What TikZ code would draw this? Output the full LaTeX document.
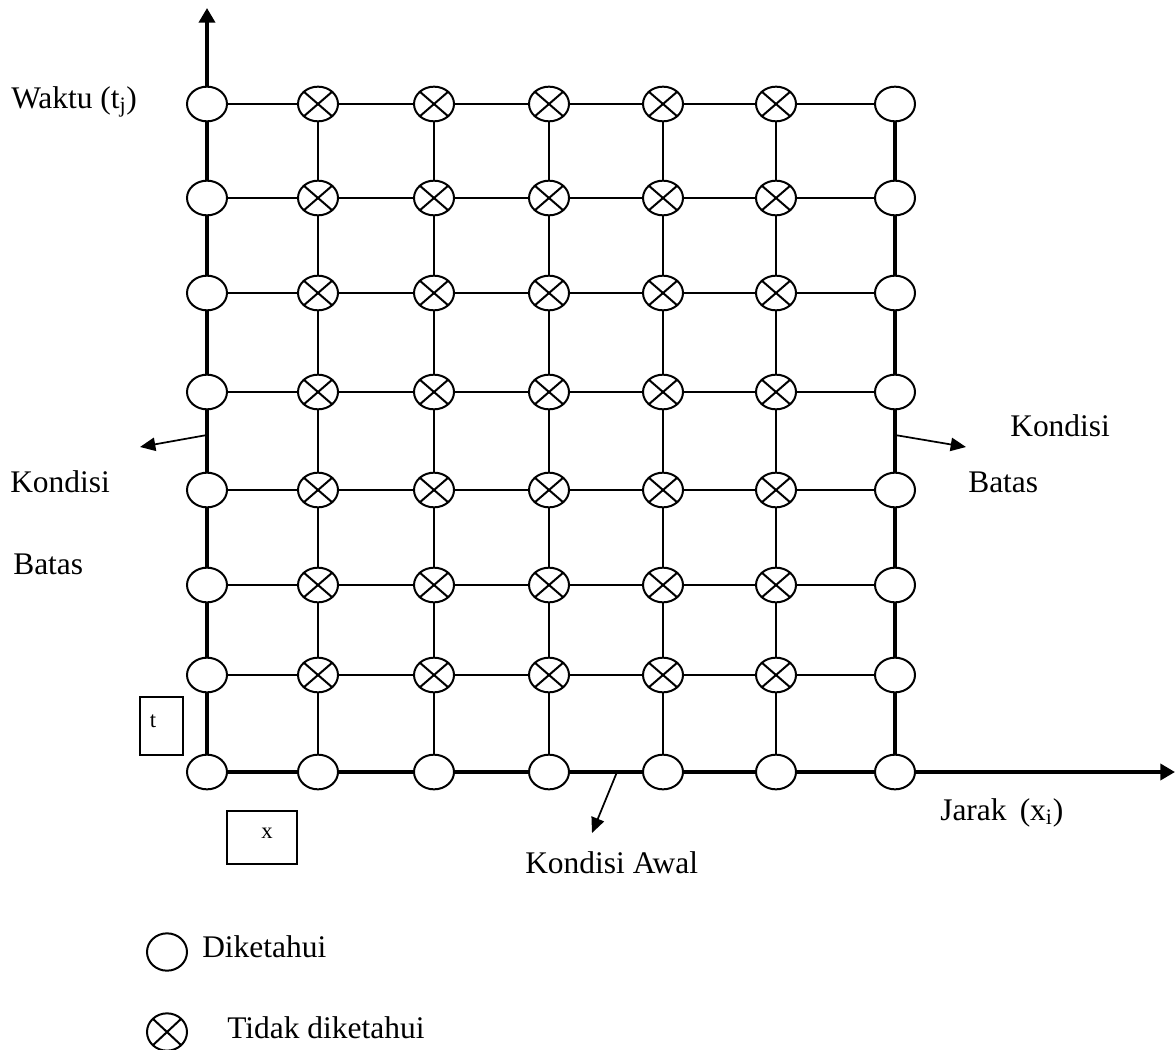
\documentclass[tikz,border=0pt]{standalone}
\usepackage{fontspec}
\setmainfont{Liberation Serif}
\usetikzlibrary{shapes.geometric,arrows.meta}
\begin{document}
\begin{tikzpicture}[x=0.75pt,y=-0.75pt,
  known/.style={draw, ellipse, line width=1.5pt, minimum width=30pt, minimum height=26pt, inner sep=0pt},
  unknown/.style={known, path picture={\draw[line width=1.5pt]
      (path picture bounding box.south west) -- (path picture bounding box.north east)
      (path picture bounding box.north west) -- (path picture bounding box.south east);}},
  gridline/.style={line width=1.1pt},
  axisline/.style={line width=3.6pt},
  axisarrow/.style={axisline, -{Triangle[length=11pt,width=12pt]}},
  condarrow/.style={line width=1.3pt, -{Triangle[length=11.5pt,width=10pt]}},
  lbl/.style={font=\fontsize{23.6}{28}\selectfont, inner sep=0pt, anchor=base west},
  smalllbl/.style={font=\fontsize{17}{20}\selectfont, inner sep=0pt},
  stepbox/.style={draw, line width=1.1pt, inner sep=0pt}
]
\useasboundingbox (0,0) rectangle (1176,1049);

% nodes
\foreach \c/\x in {1/207,2/318,3/434,4/549,5/663,6/776,7/895}
  \node[known] (n-\c-8) at (\x,772) {};
\foreach \r/\y in {1/104,2/198,3/293,4/392,5/490,6/585,7/675}{
  \node[known] (n-1-\r) at (207,\y) {};
  \node[known] (n-7-\r) at (895,\y) {};
}
\foreach \c/\x in {2/318,3/434,4/549,5/663,6/776}{
  \foreach \r/\y in {1/104,2/198,3/293,4/392,5/490,6/585,7/675}{
    \node[unknown] (n-\c-\r) at (\x,\y) {};
  }
}

% thin grid lines
\foreach \r in {1,...,7}{
  \foreach \c in {1,...,6}{
    \pgfmathtruncatemacro{\d}{\c+1}
    \draw[gridline] (n-\c-\r) -- (n-\d-\r);
  }
}
\foreach \c in {2,...,6}{
  \foreach \r in {1,...,7}{
    \pgfmathtruncatemacro{\s}{\r+1}
    \draw[gridline] (n-\c-\r) -- (n-\c-\s);
  }
}

% thick boundary lines
\foreach \r in {1,...,7}{
  \pgfmathtruncatemacro{\s}{\r+1}
  \draw[axisline] (n-1-\r) -- (n-1-\s);
  \draw[axisline] (n-7-\r) -- (n-7-\s);
}
\foreach \c in {1,...,6}{
  \pgfmathtruncatemacro{\d}{\c+1}
  \draw[axisline] (n-\c-8) -- (n-\d-8);
}

% axes
\coordinate (ytip) at (207,8);
\coordinate (xtip) at (1175,772);
\draw[axisarrow] (n-1-1) -- (ytip);
\draw[axisarrow] (n-7-8) -- (xtip);

% condition arrows
\coordinate (lbs) at (207,435);
\coordinate (lbt) at (140,447);
\coordinate (rbs) at (895,435);
\coordinate (rbt) at (966,447);
\coordinate (abs) at (617,772);
\coordinate (abt) at (592,833);
\draw[condarrow] (lbs) -- (lbt);
\draw[condarrow] (rbs) -- (rbt);
\draw[condarrow] (abs) -- (abt);

% labels
\node[lbl] (waktu) at (11,108) {Waktu (t\textsubscript{j})};
\node[lbl] (kl) at (10,492) {Kondisi};
\node[lbl] (bl) at (13,574) {Batas};
\node[lbl] (kr) at (1010,436) {Kondisi};
\node[lbl] (br) at (968,492) {Batas};
\node[lbl] (awal) at (525,873) {Kondisi Awal};
\node[lbl] (jarak) at (940,820) {Jarak\, (x\textsubscript{i})};

% step boxes
\node[stepbox, minimum width=32.25pt, minimum height=43.5pt] (tbox) at (161.5,726) {};
\node[smalllbl] (tlbl) at (153,721) {t};
\node[stepbox, minimum width=52.5pt, minimum height=39.75pt] (xbox) at (262,837.5) {};
\node[smalllbl] (xlbl) at (267,833) {x};

% legend
\node[known, minimum height=28pt] (legk) at (167,952) {};
\node[lbl] (legkt) at (202,957) {Diketahui};
\node[unknown, minimum height=28pt] (legu) at (167,1032) {};
\node[lbl] (legut) at (227,1038) {Tidak diketahui};
\end{tikzpicture}
\end{document}
